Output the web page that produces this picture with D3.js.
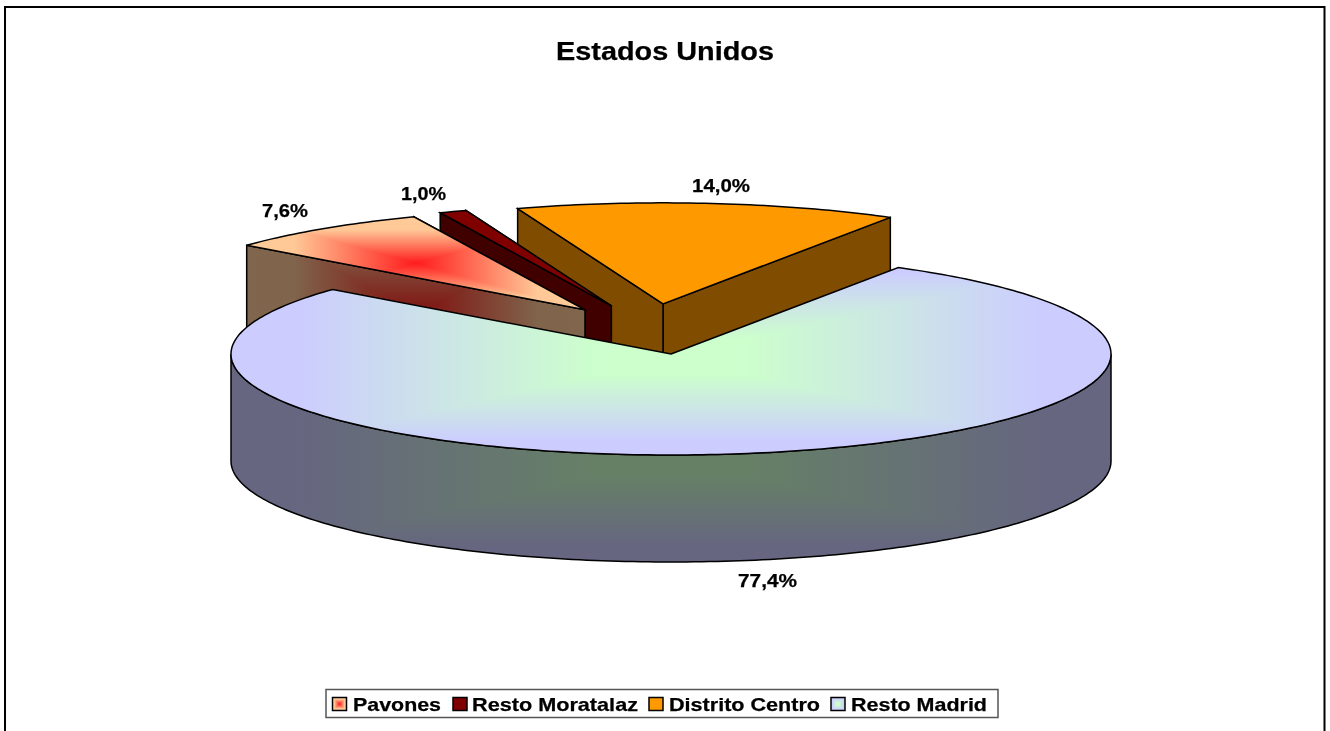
<!DOCTYPE html>
<html><head><meta charset="utf-8">
<script src="https://cdn.jsdelivr.net/npm/d3@7/dist/d3.min.js"></script>
<style>html,body{margin:0;padding:0;background:#fff;overflow:hidden}svg{display:block;filter:blur(0.45px)}text{font-family:"Liberation Sans",Arial,sans-serif;font-weight:bold;fill:#000;stroke:#000;stroke-width:0.25px}</style>
</head><body><script>
const title = "Estados Unidos";
const categories = ["Pavones", "Resto Moratalaz", "Distrito Centro", "Resto Madrid"];
const values = [7.6, 1.0, 14.0, 77.4];
const valueLabels = ["7,6%", "1,0%", "14,0%", "77,4%"];
const exploded = [1, 1, 1, 0];
const topStops = [
  [[0, "#ff1c1c"], [0.72, "#ffc896"], [1, "#ffcc99"]],
  [[0, "#800000"], [1, "#800000"]],
  [[0, "#ff9900"], [1, "#ff9900"]],
  [[0, "#ccffcc"], [0.17, "#ccffcc"], [0.85, "#ccccff"], [1, "#ccccff"]]
];
const sideStops = [
  [[0, "#800e0e"], [0.72, "#80644b"], [1, "#80664d"]],
  [[0, "#400000"], [1, "#400000"]],
  [[0, "#804d00"], [1, "#804d00"]],
  [[0, "#668066"], [0.17, "#668066"], [0.85, "#666680"], [1, "#666680"]]
];

const W = 1330, H = 731;
const cx = 671, cy = 354, rx = 440, ry = 101, depth = 107;
const x = d3.scaleLinear().domain([-1, 1]).range([cx - rx, cx + rx]);
const y = d3.scaleLinear().domain([-1, 1]).range([cy - ry, cy + ry]);
const rad = d => d * Math.PI / 180;
const pie = d3.pie().sort(null).startAngle(rad(-50.25)).endAngle(rad(309.75));
const arcs = pie(values);
const line = d3.line();
const svg = d3.select("body").append("svg").attr("width", W).attr("height", H);
const defs = svg.append("defs");
let uid = 0;

function rectFill(parent, d, box, stops) {
  const clip = "c" + (++uid);
  defs.append("clipPath").attr("id", clip).append("path").attr("d", d);
  const g = parent.append("g").attr("clip-path", `url(#${clip})`);
  const [x0, y0, x1, y1] = box, mx = (x0 + x1) / 2, my = (y0 + y1) / 2;
  const corners = [[x0, y0], [x1, y0], [x1, y1], [x0, y1]];
  const ends = [[mx, y0], [x1, my], [mx, y1], [x0, my]];
  // backing so triangle seams never show the page through
  g.append("path").attr("d", d).attr("fill", stops[stops.length - 1][1]);
  corners.forEach((p, i) => {
    const q = corners[(i + 1) % 4], id = "g" + (++uid);
    const lg = defs.append("linearGradient").attr("id", id).attr("gradientUnits", "userSpaceOnUse")
      .attr("x1", mx).attr("y1", my).attr("x2", ends[i][0]).attr("y2", ends[i][1]);
    stops.forEach(s => lg.append("stop").attr("offset", s[0]).attr("stop-color", s[1]));
    g.append("path").attr("d", line([[mx, my], p, q]) + "Z").attr("fill", `url(#${id})`)
      .attr("shape-rendering", "crispEdges");
  });
  parent.append("path").attr("d", d).attr("fill", "none")
    .attr("stroke", "#000").attr("stroke-width", 1.5).attr("stroke-linejoin", "miter");
}

function rimPoints(a0, a1, ox, oy, dz) {
  const n = Math.max(2, Math.ceil(Math.abs(a1 - a0) / rad(1)));
  return d3.range(n + 1).map(i => {
    const a = a0 + (a1 - a0) * i / n;
    return [x(Math.sin(a)) + ox, y(-Math.cos(a)) + oy + dz];
  });
}

function drawSlice(i) {
  const a = arcs[i], mid = (a.startAngle + a.endAngle) / 2;
  const ox = exploded[i] ? -19.5 + 0.2537 * rx * Math.sin(mid) : 0;
  const oy = exploded[i] ? -19 - 0.31 * ry * Math.cos(mid) : 0;
  const apex = [cx + ox, cy + oy];
  const s = [x(Math.sin(a.startAngle)) + ox, y(-Math.cos(a.startAngle)) + oy];
  const e = [x(Math.sin(a.endAngle)) + ox, y(-Math.cos(a.endAngle)) + oy];
  const g = svg.append("g");
  const rim = rimPoints(a.startAngle, a.endAngle, ox, oy, 0);
  const poly = [apex].concat(rim);
  const [xa, xb] = d3.extent(poly, p => p[0]), [ya, yb] = d3.extent(poly, p => p[1]);
  const topBox = exploded[i] ? [xa, ya, xb, yb] : [cx - rx, cy - ry + 3, cx + rx, cy + ry + 3];
  const sideBox = exploded[i] ? [xa, ya, xb, yb + depth] : [cx - rx, cy, cx + rx, cy + ry + depth];
  const down = p => [p[0], p[1] + depth];
  if (exploded[i]) {
    rectFill(g, line([apex, e, down(e), down(apex)]) + "Z", sideBox, sideStops[i]);
    rectFill(g, line([s, apex, down(apex), down(s)]) + "Z", sideBox, sideStops[i]);
  } else {
    const lo = Math.max(a.startAngle, rad(90)), hi = Math.min(a.endAngle, rad(270));
    const upper = rimPoints(lo, hi, 0, 0, 0), lower = rimPoints(hi, lo, 0, 0, depth);
    rectFill(g, line(upper.concat(lower)) + "Z", sideBox, sideStops[i]);
  }
  rectFill(g, line(poly) + "Z", topBox, topStops[i]);
}

// frame (open at the bottom, as in the picture)
svg.append("path").attr("d", `M5,${H + 4}V7H1324.5V${H + 4}`).attr("fill", "none").attr("stroke", "#000").attr("stroke-width", 2);

[2, 1, 0, 3].forEach(drawSlice);

svg.append("text").attr("x", 556).attr("y", 59.5).attr("font-size", 25.5)
  .attr("textLength", 218).attr("lengthAdjust", "spacingAndGlyphs").text(title);

const labelBoxes = [[262, 217, 46], [401, 200, 45], [692, 192, 58], [738, 587, 59]];
valueLabels.forEach((t, i) => {
  svg.append("text").attr("x", labelBoxes[i][0]).attr("y", labelBoxes[i][1]).attr("font-size", 19)
    .attr("textLength", labelBoxes[i][2]).attr("lengthAdjust", "spacingAndGlyphs").text(t);
});

// legend
const lg = svg.append("g");
lg.append("rect").attr("x", 326).attr("y", 689.5).attr("width", 672).attr("height", 28)
  .attr("fill", "#fff").attr("stroke", "#555").attr("stroke-width", 1.5);
const legendItems = [[332.5, 353, 88], [453, 472, 166], [649, 669, 151], [831, 851, 136]];
categories.forEach((c, i) => {
  const [sx, tx, tw] = legendItems[i];
  const sy = 697.5, sw = 14, sh = 13;
  const d = line([[sx, sy], [sx + sw, sy], [sx + sw, sy + sh], [sx, sy + sh]]) + "Z";
  rectFill(lg, d, [sx, sy, sx + sw, sy + sh], topStops[i]);
  lg.append("text").attr("x", tx).attr("y", 710.5).attr("font-size", 19)
    .attr("textLength", tw).attr("lengthAdjust", "spacingAndGlyphs").text(c);
});
</script></body></html>
